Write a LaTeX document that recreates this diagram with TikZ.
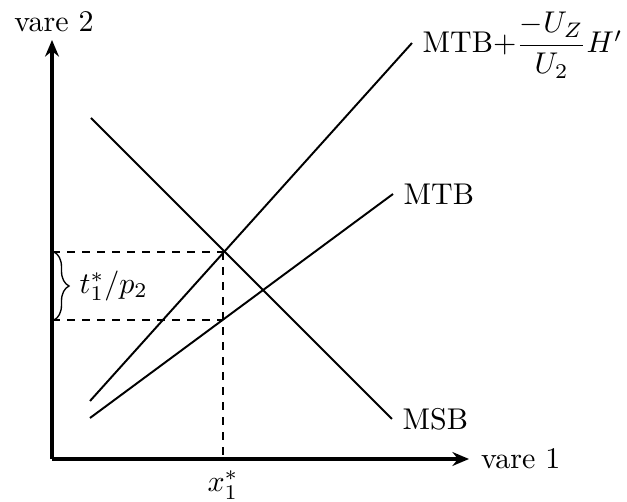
\documentclass[tikz,border=0pt]{standalone}
\usepackage{amsmath}
\usetikzlibrary{arrows.meta,decorations.pathreplacing}
\begin{document}
\begin{tikzpicture}[x=0.3333pt,y=-0.3333pt,
  axis/.style={line width=1.1pt,-{Stealth[length=5.5pt,width=4.6pt]}},
  curve/.style={line width=0.65pt},
  guide/.style={line width=0.65pt,dash pattern=on 2.7pt off 2.3pt},
  lbl/.style={inner sep=3.33pt}]
\useasboundingbox (0,0) rectangle (627,502);
% axes
\coordinate (O) at (52,459);
\coordinate (ytop) at (52,40);
\coordinate (xend) at (469,459);
\draw[axis] (O) -- (ytop);
\draw[axis] (O) -- (xend);
\node[lbl] (v2) at (54,22) {vare 2};
\node[lbl,anchor=west] (v1) at ([xshift=0.5pt]xend) {vare 1};
% curves
\coordinate (msbA) at (91,118);
\coordinate (msbB) at (392,419);
\coordinate (mtbA) at (90,418);
\coordinate (mtbB) at (393,194);
\coordinate (mtpA) at (90,401);
\coordinate (mtpB) at (412,43);
\draw[curve] (msbA) -- (msbB);
\draw[curve] (mtbA) -- (mtbB);
\draw[curve] (mtpA) -- (mtpB);
\node[lbl,anchor=west] (msb) at (msbB) {MSB};
\node[lbl,anchor=west] (mtb) at (mtbB) {MTB};
\node[lbl,anchor=west] (mtp) at ([yshift=-0.7pt]mtpB) {MTB$+\dfrac{-U_Z}{U_2}H'$};
% guides
\coordinate (P) at (223,252);
\coordinate (Q) at (223,320);
\coordinate (yP) at (52,252);
\coordinate (yQ) at (52,320);
\coordinate (xP) at (223,459);
\draw[guide] (yP) -- (P);
\draw[guide] (yQ) -- (Q);
\draw[guide] (P) -- (xP);
\node[lbl,anchor=north] (x1) at ([yshift=-0.5pt]xP) {$x_1^*$};
% brace
\coordinate (bT) at (54,252);
\coordinate (bB) at (54,320);
\draw[line width=0.45pt,decorate,decoration={brace,amplitude=5pt}] (bT) -- (bB)
  node[midway,anchor=west,xshift=5pt,lbl] (tp) {$t_1^*/p_2$};
\end{tikzpicture}
\end{document}
